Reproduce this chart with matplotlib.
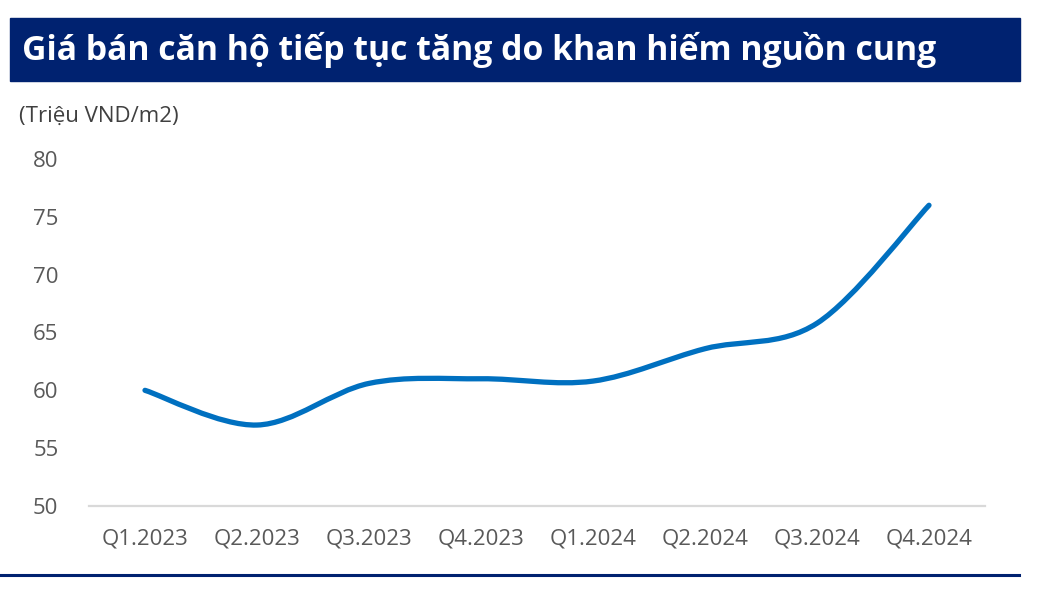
import matplotlib.pyplot as plt
from matplotlib.path import Path
from matplotlib.patches import PathPatch, Rectangle
from matplotlib.lines import Line2D
import numpy as np

# chart data
quarters = ["Q1.2023", "Q2.2023", "Q3.2023", "Q4.2023",
            "Q1.2024", "Q2.2024", "Q3.2024", "Q4.2024"]
price = [60.0, 57.0, 60.6, 61.0, 60.8, 63.6, 65.8, 76.0]
yticks = [50, 55, 60, 65, 70, 75, 80]

title = "Giá bán căn hộ tiếp tục tăng do khan hiếm nguồn cung"
unit = "(Triệu VND/m2)"

navy = "#002270"
blue = "#0070C0"
grey = "#595959"

W, H = 1052, 599
fig = plt.figure(figsize=(W / 100, H / 100), dpi=100)
plt.rcParams['font.family'] = ['Open Sans', 'DejaVu Sans']

# banner
fig.patches.append(Rectangle((10 / W, 1 - 81 / H), 1010 / W, 63 / H,
                             transform=fig.transFigure, color=navy, zorder=0))
fig.text(22 / W, 1 - 50 / H, title, color="white", fontsize=24.3,
         fontweight="bold", va="center", ha="left")
fig.text(19 / W, 1 - 116 / H, unit, color="#404040", fontsize=16,
         va="center", ha="left")
# bottom rule
fig.lines.append(Line2D([0, 1019 / W], [1 - 575 / H, 1 - 575 / H],
                        transform=fig.transFigure, color=navy, lw=2.2))

ax = fig.add_axes([89 / W, 1 - 506 / H, (985 - 89) / W, (506 - 159) / H])
x = np.arange(len(quarters))
ax.set_xlim(-0.5, len(quarters) - 0.5)
ax.set_ylim(50, 80)

# smooth curve through the points (Catmull-Rom style Bezier segments)
pts = np.column_stack([x, price]).astype(float)
ext = np.vstack([pts[0], pts, pts[-1]])
verts = [tuple(pts[0])]
codes = [Path.MOVETO]
for i in range(len(pts) - 1):
    p0, p1, p2, p3 = ext[i], ext[i + 1], ext[i + 2], ext[i + 3]
    c1 = p1 + (p2 - p0) / 6
    c2 = p2 - (p3 - p1) / 6
    verts += [tuple(c1), tuple(c2), tuple(p2)]
    codes += [Path.CURVE4] * 3
ax.add_patch(PathPatch(Path(verts, codes), fill=False, edgecolor=blue,
                       lw=3.8, capstyle="round", joinstyle="round",
                       clip_on=False))

for s in ["top", "right", "left"]:
    ax.spines[s].set_visible(False)
ax.spines["bottom"].set_color("#D9D9D9")
ax.spines["bottom"].set_linewidth(1.6)

ax.set_xticks(x)
ax.set_xticklabels(quarters)
ax.set_yticks(yticks)
ax.tick_params(axis="both", length=0, labelsize=16, labelcolor=grey)
ax.tick_params(axis="y", pad=22)
ax.tick_params(axis="x", pad=16)

fig.savefig("out.png", dpi=100)
